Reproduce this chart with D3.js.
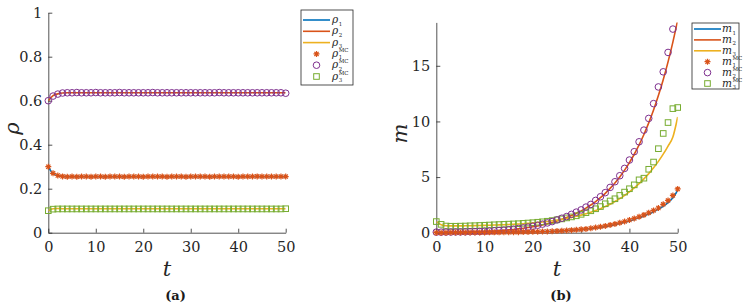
<!DOCTYPE html>
<html>
<head>
<meta charset="utf-8">
<script src="https://cdn.jsdelivr.net/npm/d3@7"></script>
<style>
  html, body { margin: 0; padding: 0; background: #fff; }
  svg text { font-family: "DejaVu Serif", serif; }
  .axis path, .axis line { stroke: #262626; stroke-width: 0.8; }
  .axis text { fill: #262626; }
</style>
</head>
<body>
<svg id="chart" width="752" height="306"></svg>
<script>
// time steps 0..50
const T = d3.range(0, 51);

// ── panel (a): densities ──────────────────────────
const rho1 = [0.300, 0.268, 0.259, 0.256, 0.255, 0.255, 0.255, 0.255, 0.255, 0.255,
  0.255, 0.255, 0.255, 0.255, 0.255, 0.255, 0.255, 0.255, 0.255, 0.255,
  0.255, 0.255, 0.255, 0.255, 0.255, 0.255, 0.255, 0.255, 0.255, 0.255,
  0.255, 0.255, 0.255, 0.255, 0.255, 0.255, 0.255, 0.255, 0.255, 0.255,
  0.255, 0.255, 0.255, 0.255, 0.255, 0.255, 0.255, 0.255, 0.255, 0.255, 0.255];
const rho2 = [0.600, 0.623, 0.631, 0.635, 0.636, 0.636, 0.636, 0.636, 0.636, 0.636,
  0.636, 0.636, 0.636, 0.636, 0.636, 0.636, 0.636, 0.636, 0.636, 0.636,
  0.636, 0.636, 0.636, 0.636, 0.636, 0.636, 0.636, 0.636, 0.636, 0.636,
  0.636, 0.636, 0.636, 0.636, 0.636, 0.636, 0.636, 0.636, 0.636, 0.636,
  0.636, 0.636, 0.636, 0.636, 0.636, 0.636, 0.636, 0.636, 0.636, 0.636, 0.636];
const rho3 = [0.100, 0.109, 0.110, 0.109, 0.109, 0.109, 0.109, 0.109, 0.109, 0.109,
  0.109, 0.109, 0.109, 0.109, 0.109, 0.109, 0.109, 0.109, 0.109, 0.109,
  0.109, 0.109, 0.109, 0.109, 0.109, 0.109, 0.109, 0.109, 0.109, 0.109,
  0.109, 0.109, 0.109, 0.109, 0.109, 0.109, 0.109, 0.109, 0.109, 0.109,
  0.109, 0.109, 0.109, 0.109, 0.109, 0.109, 0.109, 0.109, 0.109, 0.109, 0.109];
const rho1MC = [0.300, 0.270, 0.260, 0.256, 0.254, 0.255, 0.254, 0.255, 0.255, 0.254,
  0.255, 0.255, 0.254, 0.255, 0.255, 0.255, 0.254, 0.255, 0.255, 0.255,
  0.254, 0.255, 0.255, 0.255, 0.255, 0.254, 0.255, 0.255, 0.255, 0.254,
  0.255, 0.255, 0.255, 0.255, 0.254, 0.255, 0.255, 0.255, 0.255, 0.255,
  0.254, 0.255, 0.255, 0.255, 0.256, 0.255, 0.255, 0.255, 0.255, 0.255, 0.255];
const rho2MC = [0.600, 0.621, 0.630, 0.635, 0.636, 0.636, 0.637, 0.636, 0.636, 0.636,
  0.637, 0.636, 0.636, 0.636, 0.636, 0.637, 0.636, 0.636, 0.636, 0.636,
  0.636, 0.636, 0.637, 0.636, 0.636, 0.636, 0.636, 0.636, 0.636, 0.636,
  0.636, 0.636, 0.636, 0.636, 0.636, 0.636, 0.637, 0.636, 0.636, 0.636,
  0.636, 0.636, 0.636, 0.636, 0.636, 0.636, 0.636, 0.636, 0.636, 0.636, 0.634];
const rho3MC = [0.100, 0.107, 0.108, 0.108, 0.108, 0.108, 0.108, 0.108, 0.108, 0.108,
  0.108, 0.108, 0.108, 0.108, 0.108, 0.108, 0.108, 0.108, 0.108, 0.108,
  0.108, 0.108, 0.108, 0.108, 0.108, 0.108, 0.108, 0.108, 0.108, 0.108,
  0.108, 0.108, 0.108, 0.108, 0.108, 0.108, 0.108, 0.108, 0.108, 0.108,
  0.108, 0.108, 0.108, 0.108, 0.108, 0.108, 0.108, 0.108, 0.108, 0.108, 0.109];

// ── panel (b): masses ─────────────────────────────
const m1 = [0.00, 0.00, 0.00, 0.01, 0.01, 0.01, 0.01, 0.01, 0.02, 0.02,
  0.02, 0.02, 0.03, 0.03, 0.03, 0.04, 0.04, 0.05, 0.05, 0.06,
  0.07, 0.08, 0.09, 0.10, 0.12, 0.13, 0.15, 0.18, 0.21, 0.24,
  0.28, 0.32, 0.37, 0.42, 0.48, 0.55, 0.63, 0.72, 0.82, 0.93,
  1.06, 1.19, 1.34, 1.51, 1.69, 1.89, 2.11, 2.37, 2.70, 3.15, 3.80];
const m2 = [0.00, 0.01, 0.02, 0.03, 0.04, 0.05, 0.06, 0.07, 0.08, 0.10,
  0.11, 0.13, 0.15, 0.18, 0.21, 0.25, 0.29, 0.34, 0.40, 0.46,
  0.53, 0.61, 0.70, 0.80, 0.92, 1.05, 1.20, 1.36, 1.54, 1.74,
  1.96, 2.21, 2.49, 2.80, 3.15, 3.54, 3.98, 4.47, 5.01, 5.62,
  6.30, 7.05, 7.89, 8.83, 9.87, 11.03, 12.32, 13.75, 15.35, 17.13, 19.10];
const m3 = [1.00, 0.72, 0.63, 0.61, 0.61, 0.61, 0.62, 0.63, 0.64, 0.65,
  0.66, 0.67, 0.69, 0.70, 0.72, 0.74, 0.76, 0.78, 0.81, 0.84,
  0.88, 0.92, 0.96, 1.01, 1.07, 1.13, 1.20, 1.28, 1.37, 1.47,
  1.58, 1.70, 1.84, 1.99, 2.16, 2.35, 2.56, 2.80, 3.06, 3.35,
  3.67, 4.02, 4.41, 4.84, 5.31, 5.83, 6.41, 7.06, 7.79, 8.60, 10.40];
const m1MC = [0.00, 0.00, 0.00, 0.01, 0.01, 0.01, 0.01, 0.02, 0.02, 0.02,
  0.02, 0.03, 0.03, 0.03, 0.04, 0.04, 0.05, 0.05, 0.06, 0.07,
  0.08, 0.09, 0.10, 0.11, 0.13, 0.15, 0.17, 0.20, 0.23, 0.26,
  0.30, 0.34, 0.40, 0.46, 0.53, 0.61, 0.70, 0.79, 0.89, 1.00,
  1.14, 1.28, 1.43, 1.60, 1.79, 2.00, 2.22, 2.55, 2.90, 3.35, 3.93];
const m2MC = [0.05, 0.05, 0.06, 0.06, 0.07, 0.07, 0.08, 0.09, 0.10, 0.11,
  0.13, 0.15, 0.17, 0.20, 0.23, 0.27, 0.32, 0.37, 0.43, 0.50,
  0.58, 0.67, 0.77, 0.88, 1.00, 1.15, 1.30, 1.45, 1.65, 1.85,
  2.05, 2.30, 2.54, 2.90, 3.23, 3.60, 4.07, 4.58, 5.12, 5.78,
  6.53, 7.28, 8.17, 9.22, 10.27, 11.60, 13.10, 14.46, 16.20, 18.30, 20.50];
const m3MC = [1.00, 0.75, 0.60, 0.58, 0.58, 0.59, 0.60, 0.62, 0.63, 0.65,
  0.67, 0.69, 0.71, 0.73, 0.75, 0.77, 0.79, 0.81, 0.84, 0.87,
  0.90, 0.94, 0.98, 1.03, 1.09, 1.16, 1.24, 1.33, 1.42, 1.52,
  1.65, 1.80, 1.97, 2.15, 2.35, 2.60, 2.85, 3.05, 3.35, 3.65,
  3.95, 4.30, 4.75, 4.90, 5.70, 6.35, 7.55, 8.92, 9.90, 11.15, 11.25];

const rhoTicks = [0, 0.2, 0.4, 0.6, 0.8, 1];
const mTicks = [0, 5, 10, 15];
const tTicks = [0, 10, 20, 30, 40, 50];

const BLUE = '#0072BD', RED = '#D95319', YELLOW = '#EDB120';
const PURPLE = '#7E2F8E', GREEN = '#77AC30';
const AX = '#262626';
const FONT = '"DejaVu Serif", serif';

const svg = d3.select('#chart');

function asterisk(s) {
  // MATLAB style '*' marker: plus + cross
  const d = s * 0.7;
  return `M${-s},0L${s},0M0,${-s}L0,${s}M${-d},${-d}L${d},${d}M${-d},${d}L${d},${-d}`;
}

function drawPanel(cfg) {
  const g = svg.append('g');
  const x = d3.scaleLinear().domain([0, 50]).range(cfg.xr);
  const y = d3.scaleLinear().domain(cfg.yd).range(cfg.yr);

  const clipId = 'clip-' + cfg.id;
  svg.append('clipPath').attr('id', clipId)
    .append('rect')
    .attr('x', cfg.xr[0]).attr('y', cfg.yr[1])
    .attr('width', cfg.xr[1] - cfg.xr[0]).attr('height', cfg.yr[0] - cfg.yr[1]);

  // Axes (inward ticks, no box)
  const xAxis = g.append('g').attr('class', 'axis')
    .attr('transform', `translate(0,${cfg.yr[0]})`)
    .call(d3.axisBottom(x).tickValues(tTicks).tickSizeInner(-4).tickSizeOuter(0).tickPadding(9));
  const yAxis = g.append('g').attr('class', 'axis')
    .attr('transform', `translate(${cfg.xr[0]},0)`)
    .call(d3.axisLeft(y).tickValues(cfg.yTicks).tickFormat(d3.format('~g'))
      .tickSizeInner(-4).tickSizeOuter(0).tickPadding(6));
  [xAxis, yAxis].forEach(a => a.attr('font-family', FONT).attr('font-size', 14.5)
    .selectAll('text').style('font-family', FONT).style('font-size', '14.5px'));

  const line = d3.line()
    .x((d, i) => x(T[i]))
    .y(d => y(d))
    .curve(d3.curveMonotoneX);

  const plot = g.append('g').attr('clip-path', `url(#${clipId})`);
  cfg.lines.forEach(s => {
    plot.append('path')
      .datum(s.values)
      .attr('fill', 'none')
      .attr('stroke', s.color)
      .attr('stroke-width', 1.6)
      .attr('d', line);
  });

  const ymax = cfg.yd[1];
  const pts = vals => vals.map((v, i) => ({ t: T[i], v })).filter(p => p.v <= ymax);

  // squares
  g.append('g').selectAll('rect')
    .data(pts(cfg.mc[2]))
    .join('rect')
    .attr('x', d => x(d.t) - 2.8).attr('y', d => y(d.v) - 2.8)
    .attr('width', 5.6).attr('height', 5.6)
    .attr('fill', 'none').attr('stroke', GREEN).attr('stroke-width', 1);
  // circles
  g.append('g').selectAll('circle')
    .data(pts(cfg.mc[1]))
    .join('circle')
    .attr('cx', d => x(d.t)).attr('cy', d => y(d.v))
    .attr('r', 3.3)
    .attr('fill', 'none').attr('stroke', PURPLE).attr('stroke-width', 1);
  // asterisks
  g.append('g').selectAll('path')
    .data(pts(cfg.mc[0]))
    .join('path')
    .attr('transform', d => `translate(${x(d.t)},${y(d.v)})`)
    .attr('d', asterisk(3))
    .attr('fill', 'none').attr('stroke', RED).attr('stroke-width', 1.2);

  // axis labels
  g.append('text')
    .attr('x', (cfg.xr[0] + cfg.xr[1]) / 2).attr('y', 276)
    .attr('text-anchor', 'middle')
    .style('font-family', FONT)
    .attr('font-style', 'italic').attr('font-size', 21).attr('fill', AX)
    .text('t');
  g.append('text')
    .attr('transform', `translate(${cfg.yLabelX},${(cfg.yr[0] + cfg.yr[1]) / 2 + 6}) rotate(-90)`)
    .attr('text-anchor', 'middle')
    .style('font-family', FONT)
    .attr('font-style', 'italic').attr('font-size', 21).attr('fill', AX)
    .text(cfg.sym);

  // caption
  g.append('text')
    .attr('x', cfg.capX).attr('y', 300)
    .attr('text-anchor', 'middle')
    .style('font-family', FONT)
    .attr('font-weight', 'bold').attr('font-size', 13).attr('fill', '#1a1a1a')
    .text(cfg.caption);

  // legend
  const L = cfg.legend;
  const lg = g.append('g');
  lg.append('rect')
    .attr('x', L.x).attr('y', L.y).attr('width', L.w).attr('height', L.h)
    .attr('fill', '#fff').attr('stroke', AX).attr('stroke-width', 0.8);
  const rowY = i => L.y0 + i * L.dy;
  cfg.lines.forEach((s, i) => {
    lg.append('line')
      .attr('x1', L.lx0).attr('x2', L.lx1).attr('y1', rowY(i)).attr('y2', rowY(i))
      .attr('stroke', s.color).attr('stroke-width', 1.6);
  });
  const mx = (L.lx0 + L.lx1) / 2;
  lg.append('path').attr('d', asterisk(3))
    .attr('transform', `translate(${mx},${rowY(3)})`)
    .attr('fill', 'none').attr('stroke', RED).attr('stroke-width', 1.2);
  lg.append('circle').attr('cx', mx).attr('cy', rowY(4)).attr('r', 3.3)
    .attr('fill', 'none').attr('stroke', PURPLE).attr('stroke-width', 1);
  lg.append('rect').attr('x', mx - 2.8).attr('y', rowY(5) - 2.8).attr('width', 5.6).attr('height', 5.6)
    .attr('fill', 'none').attr('stroke', GREEN).attr('stroke-width', 1);

  // entries: symbol with subscript index and stacked "MC" superscript, one text each
  const labels = [['1', null], ['2', null], ['3', null], ['1', 'MC'], ['2', 'MC'], ['3', 'MC']];
  labels.forEach(([sub, sup], i) => {
    const yy = rowY(i) + 3;
    const txt = lg.append('text')
      .attr('x', L.tx).attr('y', yy)
      .style('font-family', FONT)
      .attr('fill', AX);
    txt.append('tspan').attr('font-style', 'italic').attr('font-size', 10.5).text(cfg.sym);
    const sx = L.tx + txt.node().getComputedTextLength() + 0.5;
    txt.append('tspan').attr('x', sx).attr('dy', 2.5).attr('font-size', 5.5).text(sub);
    if (sup) {
      txt.append('tspan').attr('x', sx).attr('dy', -7.5).attr('font-size', 5.5).text(sup);
    }
  });
}

drawPanel({
  id: 'a', sym: 'ρ', caption: '(a)', capX: 175.5,
  xr: [48.3, 285.7], yd: [0, 1], yr: [232.7, 12.7], yTicks: rhoTicks, yLabelX: 19,
  lines: [
    { values: rho1, color: BLUE },
    { values: rho2, color: RED },
    { values: rho3, color: YELLOW },
  ],
  mc: [rho1MC, rho2MC, rho3MC],
  legend: { x: 301, y: 10, w: 52, h: 75, y0: 20, dy: 11.3, lx0: 303, lx1: 330, tx: 332 },
});

drawPanel({
  id: 'b', sym: 'm', caption: '(b)', capX: 561,
  xr: [436.3, 677.7], yd: [0, 18.9], yr: [232.7, 22.4], yTicks: mTicks, yLabelX: 407,
  lines: [
    { values: m1, color: BLUE },
    { values: m2, color: RED },
    { values: m3, color: YELLOW },
  ],
  mc: [m1MC, m2MC, m3MC],
  legend: { x: 692, y: 23, w: 47, h: 66, y0: 29, dy: 10.9, lx0: 694, lx1: 721, tx: 722 },
});
</script>
</body>
</html>
